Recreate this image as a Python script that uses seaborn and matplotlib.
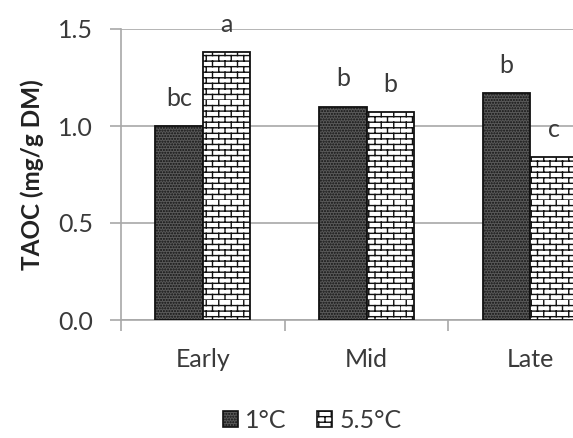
import warnings
import numpy as np
import pandas as pd
import matplotlib
matplotlib.use("Agg")
import matplotlib.pyplot as plt
from matplotlib import hatch as mhatch
from matplotlib.path import Path
from matplotlib.patches import Patch
from matplotlib.ticker import FixedLocator, NullFormatter
import seaborn as sns

warnings.filterwarnings("ignore")

# ---- data -------------------------------------------------------------
stages = ["Early", "Mid", "Late"]
temps = ["1°C", "5.5°C"]
taoc_1c = [1.00, 1.10, 1.17]
taoc_55c = [1.38, 1.07, 0.84]
letters_1c = ["bc", "b", "b"]
letters_55c = ["a", "b", "c"]
yticks = [0.0, 0.5, 1.0, 1.5]


# ---- brick hatch ------------------------------------------------------
class BrickHatch(mhatch.HatchPatternBase):
    """Staggered brick pattern, selected with the 'B' hatch character."""

    def __init__(self, hatch, density):
        n = hatch.count("B")
        self.rows = 18 if n else 0
        self.cols = 8
        self.num_vertices = self.rows * 2 + self.rows * self.cols * 2

    def set_vertices_and_codes(self, vertices, codes):
        k = 0
        for i in range(self.rows):
            y0 = i / self.rows
            y1 = (i + 1) / self.rows
            vertices[k] = (0.0, y0)
            vertices[k + 1] = (1.0, y0)
            codes[k] = Path.MOVETO
            codes[k + 1] = Path.LINETO
            k += 2
            off = 0.5 / self.cols if i % 2 else 0.0
            for j in range(self.cols):
                x = j / self.cols + off
                vertices[k] = (x, y0)
                vertices[k + 1] = (x, y1)
                codes[k] = Path.MOVETO
                codes[k + 1] = Path.LINETO
                k += 2


mhatch._hatch_types.append(BrickHatch)

df = pd.DataFrame({
    "stage": stages * 2,
    "temp": [temps[0]] * 3 + [temps[1]] * 3,
    "taoc": taoc_1c + taoc_55c,
})

sns.set_theme(style="white")
plt.rcParams["font.family"] = ["Lato", "DejaVu Sans"]
plt.rcParams["hatch.linewidth"] = 1.0

TXT = "#3a3a3a"
GRID = "#a8a8a8"

fig = plt.figure(figsize=(5.73, 4.38), dpi=100)
ax = fig.add_axes([121 / 573, 118 / 438, 491 / 573, 291 / 438])

sns.barplot(data=df, x="stage", y="taoc", hue="temp", order=stages,
            hue_order=temps, width=0.58, gap=0, ax=ax, legend=False,
            errorbar=None, palette=["#5a5a5a", "white"], saturation=1)

styles = [dict(facecolor="#5a5a5a", hatch="......"),
          dict(facecolor="white", hatch="B")]
for cont, st in zip(ax.containers, styles):
    for bar in cont:
        bar.set_facecolor(st["facecolor"])
        bar.set_hatch(st["hatch"])
        bar.set_edgecolor("#111111")
        bar.set_linewidth(1.3)
        bar.set_zorder(3)

# significance letters above each bar
for cont, labs in zip(ax.containers, [letters_1c, letters_55c]):
    for bar, lab in zip(cont, labs):
        cx = bar.get_x() + bar.get_width() / 2
        top = bar.get_height()
        ax.annotate(lab, (cx, top), xytext=(0, 14.5), textcoords="offset points",
                    ha="center", va="baseline", fontsize=18, color=TXT,
                    annotation_clip=False, zorder=5)

ax.set_xlim(-0.5, 2.5)
ax.set_ylim(0, 1.5)
ax.set_yticks(yticks)
ax.set_yticklabels([f"{v:.1f}" for v in yticks])
ax.yaxis.grid(True, color=GRID, linewidth=1.2, zorder=0)
ax.set_axisbelow(True)

for side in ["top", "right"]:
    ax.spines[side].set_visible(False)
for side in ["left", "bottom"]:
    ax.spines[side].set_color(GRID)
    ax.spines[side].set_linewidth(1.2)

ax.tick_params(axis="y", which="major", direction="out", length=8, width=1.2,
               color=GRID, left=True, labelsize=18, labelcolor=TXT, pad=12)
ax.tick_params(axis="x", which="major", length=0, labelsize=18,
               labelcolor=TXT, pad=20)
ax.xaxis.set_minor_locator(FixedLocator([-0.5, 0.5, 1.5, 2.5]))
ax.xaxis.set_minor_formatter(NullFormatter())
ax.tick_params(axis="x", which="minor", direction="out", length=8, width=1.2,
               color=GRID, bottom=True)

ax.set_xlabel("")
ax.set_ylabel("TAOC (mg/g DM)", fontsize=17.5, fontweight="bold",
              color="#222222", labelpad=10)

handles = [Patch(facecolor=s["facecolor"], hatch=s["hatch"],
                 edgecolor="#111111", linewidth=1.2) for s in styles]
fig.legend(handles, temps, loc="center", bbox_to_anchor=(312 / 573, 1 - 420 / 438),
           ncol=2, frameon=False, fontsize=18, handlelength=0.6,
           handleheight=0.6, handletextpad=0.3, columnspacing=1.2,
           labelcolor=TXT)

fig.savefig("out.png", dpi=100)
